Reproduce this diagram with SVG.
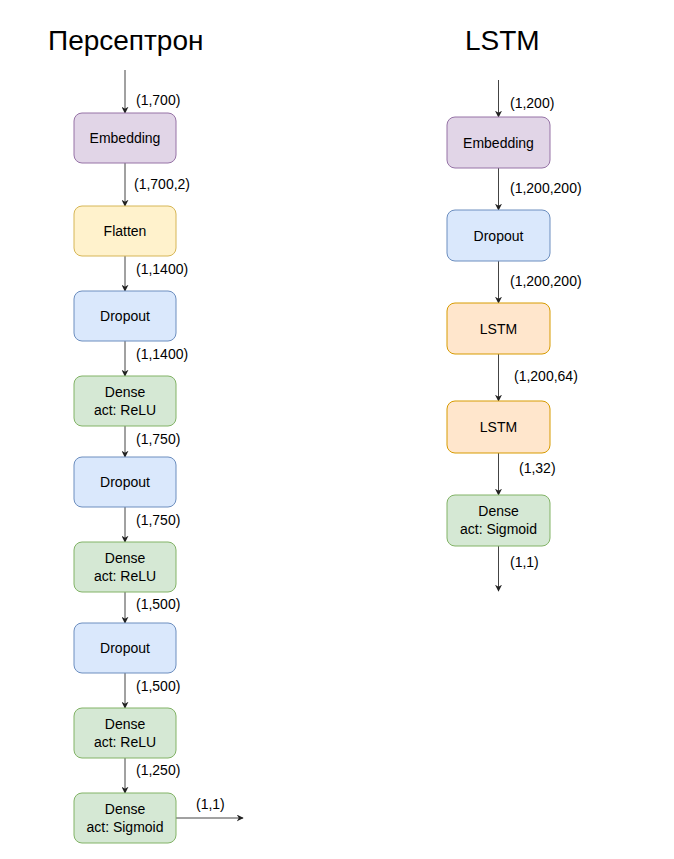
<svg xmlns="http://www.w3.org/2000/svg" width="674" height="859" viewBox="0 0 674 859">
<style>
.n rect{stroke-width:1}
.p{fill:#e1d5e7;stroke:#9673a6}
.y{fill:#fff2cc;stroke:#d6b656}
.b{fill:#dae8fc;stroke:#6c8ebf}
.g{fill:#d5e8d4;stroke:#82b366}
.o{fill:#ffe6cc;stroke:#d79b00}
.t{font-family:"Liberation Sans",Arial,sans-serif;font-size:14px;fill:#000;text-anchor:middle}
.l{font-family:"Liberation Sans",Arial,sans-serif;font-size:14px;fill:#000}
.h{font-family:"Liberation Sans",Arial,sans-serif;font-size:28px;fill:#000}
.e line{stroke:#444;stroke-width:1;marker-end:url(#a)}
</style>
<defs>
<marker id="a" viewBox="0 0 10 10" refX="9" refY="5" markerWidth="7" markerHeight="7" markerUnits="userSpaceOnUse" orient="auto">
<path d="M0,0 L10,5 L0,10 L3,5 z" fill="#222"/>
</marker>
</defs>
<rect width="674" height="859" fill="#fff"/>
<text class="h" x="48" y="50">Персептрон</text>
<text class="h" x="465" y="50">LSTM</text>

<g class="e">
<line x1="125" y1="70" x2="125" y2="113"/>
<line x1="125" y1="163" x2="125" y2="206"/>
<line x1="125" y1="256" x2="125" y2="291"/>
<line x1="125" y1="341" x2="125" y2="376"/>
<line x1="125" y1="426" x2="125" y2="457"/>
<line x1="125" y1="507" x2="125" y2="542"/>
<line x1="125" y1="592" x2="125" y2="623"/>
<line x1="125" y1="673" x2="125" y2="708"/>
<line x1="125" y1="758" x2="125" y2="793"/>
<line x1="176" y1="818" x2="243" y2="818"/>
<line x1="498.5" y1="80" x2="498.5" y2="117"/>
<line x1="498.5" y1="168" x2="498.5" y2="210"/>
<line x1="498.5" y1="261" x2="498.5" y2="303"/>
<line x1="498.5" y1="354" x2="498.5" y2="401"/>
<line x1="498.5" y1="453" x2="498.5" y2="495"/>
<line x1="498.5" y1="546" x2="498.5" y2="591"/>
</g>

<g id="labels">
<text class="l" x="136" y="105">(1,700)</text>
<text class="l" x="134" y="189">(1,700,2)</text>
<text class="l" x="136" y="274">(1,1400)</text>
<text class="l" x="136" y="359">(1,1400)</text>
<text class="l" x="136" y="444">(1,750)</text>
<text class="l" x="136" y="525">(1,750)</text>
<text class="l" x="136" y="609">(1,500)</text>
<text class="l" x="136" y="691">(1,500)</text>
<text class="l" x="136" y="775">(1,250)</text>
<text class="l" x="196" y="809">(1,1)</text>
<text class="l" x="510" y="108">(1,200)</text>
<text class="l" x="510" y="193">(1,200,200)</text>
<text class="l" x="510" y="286">(1,200,200)</text>
<text class="l" x="514" y="381">(1,200,64)</text>
<text class="l" x="519" y="473">(1,32)</text>
<text class="l" x="510" y="567">(1,1)</text>
</g>

<g id="p-embedding" class="n"><rect class="p" x="74" y="113" width="102" height="50" rx="8"/><text class="t" x="125" y="143">Embedding</text></g>
<g id="p-flatten" class="n"><rect class="y" x="74" y="206" width="102" height="50" rx="8"/><text class="t" x="125" y="236">Flatten</text></g>
<g id="p-dropout1" class="n"><rect class="b" x="74" y="291" width="102" height="50" rx="8"/><text class="t" x="125" y="321">Dropout</text></g>
<g id="p-dense1" class="n"><rect class="g" x="74" y="376" width="102" height="50" rx="8"/><text class="t" x="125" y="397">Dense</text><text class="t" x="125" y="415">act: ReLU</text></g>
<g id="p-dropout2" class="n"><rect class="b" x="74" y="457" width="102" height="50" rx="8"/><text class="t" x="125" y="487">Dropout</text></g>
<g id="p-dense2" class="n"><rect class="g" x="74" y="542" width="102" height="50" rx="8"/><text class="t" x="125" y="563">Dense</text><text class="t" x="125" y="581">act: ReLU</text></g>
<g id="p-dropout3" class="n"><rect class="b" x="74" y="623" width="102" height="50" rx="8"/><text class="t" x="125" y="653">Dropout</text></g>
<g id="p-dense3" class="n"><rect class="g" x="74" y="708" width="102" height="50" rx="8"/><text class="t" x="125" y="729">Dense</text><text class="t" x="125" y="747">act: ReLU</text></g>
<g id="p-dense4" class="n"><rect class="g" x="74" y="793" width="102" height="50" rx="8"/><text class="t" x="125" y="814">Dense</text><text class="t" x="125" y="832">act: Sigmoid</text></g>

<g id="l-embedding" class="n"><rect class="p" x="447" y="117" width="103" height="51" rx="8"/><text class="t" x="498.5" y="147.5">Embedding</text></g>
<g id="l-dropout" class="n"><rect class="b" x="447" y="210" width="103" height="51" rx="8"/><text class="t" x="498.5" y="240.5">Dropout</text></g>
<g id="l-lstm1" class="n"><rect class="o" x="447" y="303" width="103" height="51" rx="8"/><text class="t" x="498.5" y="333.5">LSTM</text></g>
<g id="l-lstm2" class="n"><rect class="o" x="447" y="401" width="103" height="52" rx="8"/><text class="t" x="498.5" y="432">LSTM</text></g>
<g id="l-dense" class="n"><rect class="g" x="447" y="495" width="103" height="51" rx="8"/><text class="t" x="498.5" y="516">Dense</text><text class="t" x="498.5" y="534">act: Sigmoid</text></g>
</svg>
